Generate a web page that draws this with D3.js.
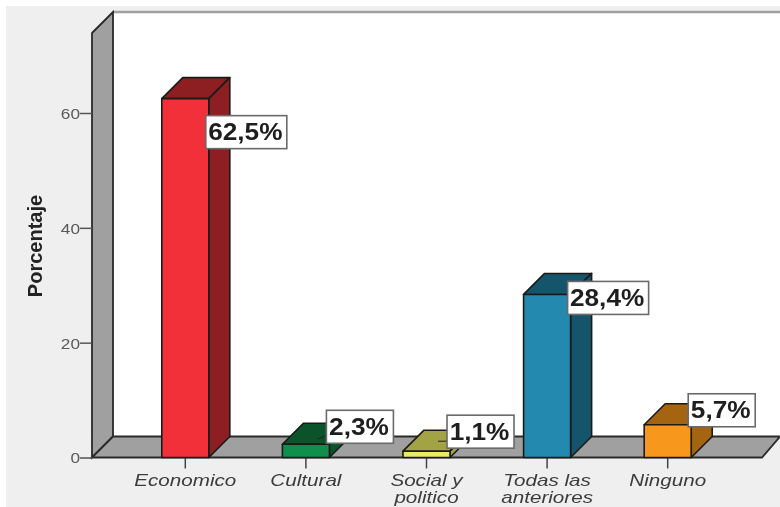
<!DOCTYPE html>
<html><head><meta charset="utf-8">
<script src="https://cdn.jsdelivr.net/npm/d3@7/dist/d3.min.js"></script>
<style>
html,body{margin:0;padding:0;background:#fff}
svg{display:block;filter:blur(0.7px)}
text{font-family:"Liberation Sans",Arial,sans-serif}
</style></head><body>
<div id="chart"></div>
<script>
const categories = ["Economico","Cultural","Social y|politico","Todas las|anteriores","Ninguno"];
const values = [62.5,2.3,1.1,28.4,5.7];
const valueLabels = ["62,5%","2,3%","1,1%","28,4%","5,7%"];
const frontColors = ["#f23039","#0f8f4b","#eaea64","#2389ae","#f7981d"];
const darkColors = ["#8d1e22","#0b5429","#a3a345","#15556c","#a5640f"];
const yTicks = [0,20,40,60];
const labelShift = [17,-34,-36,-13,-31];
const leaders = {1:{dx:-9,dy0:29,dy1:25},2:{dx:-9,dy0:26,dy1:26}};

const W=780,H=507,depth=21,base=457.5,stretch=1.29;
const y=d3.scaleLinear().domain([0,60]).range([base,113]);
const x=d3.scaleBand().domain(categories).range([125,728]).paddingInner(.61).paddingOuter(.305);
const svg=d3.select("#chart").append("svg").attr("width",W).attr("height",H);
const line="#2a2a2a";

svg.append("rect").attr("x",6).attr("y",6).attr("width",W-6).attr("height",H-6).attr("fill","#efefef");
const wallX=92,topFront=33;
svg.append("rect").attr("x",wallX+depth).attr("y",topFront-depth).attr("width",W-wallX-depth).attr("height",base-topFront).attr("fill","#fff");
svg.append("line").attr("x1",wallX+depth).attr("x2",W).attr("y1",topFront-depth).attr("y2",topFront-depth).attr("stroke","#a0a0a0").attr("stroke-width",2.5);
svg.append("path").attr("d",`M${wallX},${topFront}L${wallX+depth},${topFront-depth}V${base-depth}L${wallX},${base}Z`).attr("fill","#a0a0a0").attr("stroke",line).attr("stroke-width",1.8);
svg.append("path").attr("d",`M${wallX},${base}L${wallX+depth},${base-depth}H${W}L${W-18},${base}Z`).attr("fill","#a0a0a0").attr("stroke",line).attr("stroke-width",1.8);

// y axis
const yAxis=d3.axisLeft(y).tickValues(yTicks).tickSize(12).tickFormat(d3.format("d"));
const ya=svg.append("g").attr("transform",`translate(${wallX},0)`).call(yAxis);
ya.select(".domain").remove();
ya.selectAll("line").attr("stroke","#555").attr("stroke-width",1.5);
ya.selectAll("text").attr("font-size",15).attr("fill","#5a5a5a").attr("font-family","Liberation Sans")
  .attr("text-anchor","end").attr("x",0).attr("dy","0.36em").attr("transform","translate(-12,0) scale(1.15,1)");

// x axis
const xa=svg.append("g").attr("transform",`translate(0,${base})`).call(d3.axisBottom(x).tickSize(11).tickFormat(""));
xa.select(".domain").remove();
xa.selectAll("line").attr("stroke","#444").attr("stroke-width",1.5);

categories.forEach(c=>{
  const cx=x(c)+x.bandwidth()/2;
  const t=svg.append("text").attr("transform",`translate(${cx},0) scale(${stretch},1)`)
    .attr("text-anchor","middle").attr("font-size",16).attr("font-style","italic").attr("fill","#3c3c3c");
  c.split("|").forEach((s,i)=>t.append("tspan").attr("x",0).attr("y",486.5+i*17).text(s));
});

svg.append("text").attr("transform","translate(42,246) rotate(-90)")
 .attr("text-anchor","middle").attr("font-size",20).attr("font-weight","bold").attr("fill","#222").text("Porcentaje");

// bars
categories.forEach((c,i)=>{
  const x0=x(c),x1=x0+x.bandwidth(),t=y(values[i]);
  const g=svg.append("g").attr("stroke","#1a1a1a").attr("stroke-width",1.6).attr("stroke-linejoin","round");
  g.append("path").attr("d",`M${x0},${t}L${x0+depth},${t-depth}H${x1+depth}L${x1},${t}Z`).attr("fill",darkColors[i]);
  g.append("path").attr("d",`M${x1},${t}L${x1+depth},${t-depth}V${base-depth}L${x1},${base}Z`).attr("fill",darkColors[i]);
  g.append("rect").attr("x",x0).attr("y",t).attr("width",x1-x0).attr("height",base-t).attr("fill",frontColors[i]);
});

// value labels
const boxH=33;
categories.forEach((c,i)=>{
  const x1=x(c)+x.bandwidth(),t=y(values[i]);
  const bx=x1-3,by=t+labelShift[i],bw=valueLabels[i].length===5?81:67;
  const l=leaders[i];
  if(l) svg.append("line").attr("x1",bx+l.dx).attr("y1",by+l.dy0).attr("x2",bx).attr("y2",by+l.dy1).attr("stroke","#222").attr("stroke-width",1);
  svg.append("rect").attr("x",bx).attr("y",by).attr("width",bw).attr("height",boxH).attr("fill","#fff").attr("stroke","#6a6a6a").attr("stroke-width",1.6);
  svg.append("text").attr("transform",`translate(${bx+bw/2-1},${by+boxH/2+8}) scale(1.14,1)`).attr("text-anchor","middle")
   .attr("font-size",23).attr("font-weight","bold").attr("fill","#1e1e1e").text(valueLabels[i]);
});
</script></body></html>
